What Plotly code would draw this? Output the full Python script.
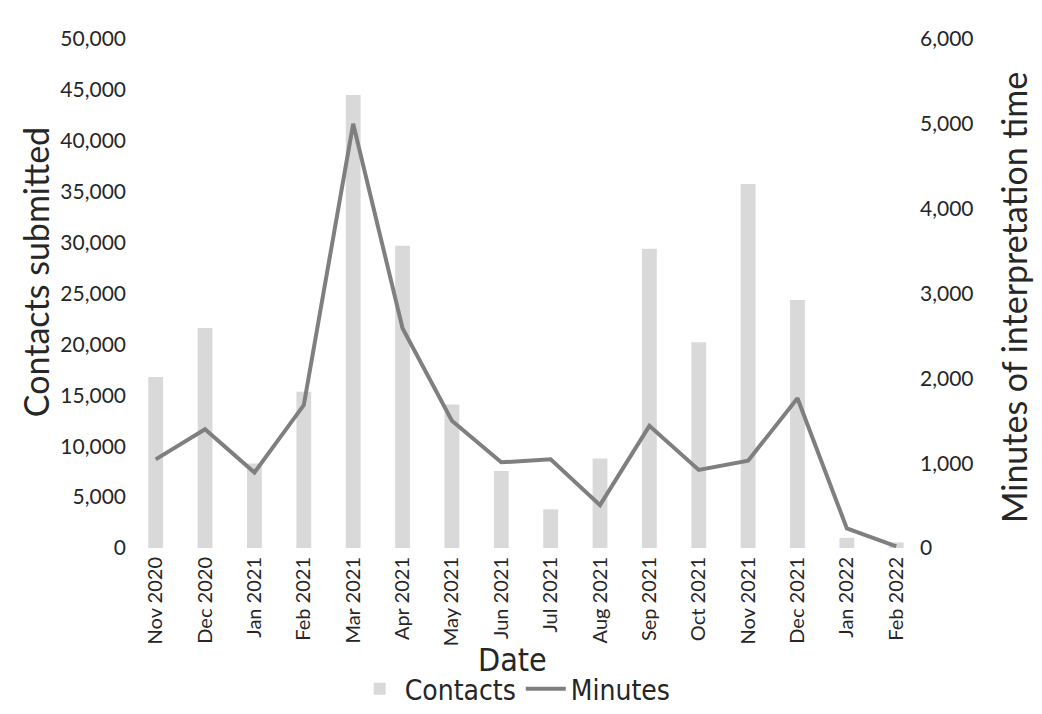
import plotly.graph_objects as go

months = ["Nov 2020", "Dec 2020", "Jan 2021", "Feb 2021", "Mar 2021", "Apr 2021",
          "May 2021", "Jun 2021", "Jul 2021", "Aug 2021", "Sep 2021", "Oct 2021",
          "Nov 2021", "Dec 2021", "Jan 2022", "Feb 2022"]
contacts = [16800, 21600, 8300, 15350, 44500, 29700, 14100, 7560, 3800, 8800,
            29400, 20200, 35750, 24350, 1000, 550]
minutes = [1045, 1400, 890, 1685, 5000, 2590, 1500, 1010, 1045, 505,
           1440, 920, 1030, 1765, 230, 20]

left_ticks = list(range(0, 50001, 5000))
right_ticks = list(range(0, 6001, 1000))

FONT = "Lato"
NARROW = "DejaVu Sans Condensed, Roboto Condensed, Lato"
TXT = "#262626"

fig = go.Figure()
fig.add_trace(go.Bar(x=months, y=contacts, name="Contacts",
                     marker=dict(color="#d9d9d9", line=dict(width=0)), yaxis="y"))
fig.add_trace(go.Scatter(x=months, y=minutes, name="Minutes", mode="lines",
                         line=dict(color="#7f7f7f", width=4), yaxis="y2"))

fig.update_layout(
    width=1042, height=714,
    margin=dict(l=123, r=135, t=31, b=174, autoexpand=False),
    plot_bgcolor="white", paper_bgcolor="white",
    bargap=0.7,
    font=dict(family=FONT, color=TXT),
    xaxis=dict(type="category", range=[-0.5, 15.38], tickangle=-90,
               tickfont=dict(size=20, color=TXT), showgrid=False, zeroline=False,
               showline=False, ticks="", ticklabelstandoff=4),
    yaxis=dict(range=[0, 50000], tickvals=left_ticks, tickformat=",",
               tickfont=dict(size=21, color=TXT), showgrid=False, zeroline=False,
               showline=False, ticks="", ticklabelstandoff=4),
    yaxis2=dict(range=[0, 6000], tickvals=right_ticks, tickformat=",",
                overlaying="y", side="right",
                tickfont=dict(size=21, color=TXT), showgrid=False, zeroline=False,
                showline=False, ticks="", ticklabelstandoff=4),
    showlegend=True,
    legend=dict(orientation="h", x=0.49, xanchor="center", y=-0.228, yanchor="top",
                font=dict(family=NARROW, size=28, color=TXT), itemwidth=40,
                bgcolor="rgba(0,0,0,0)"),
    annotations=[
        dict(text="Contacts submitted", xref="paper", yref="paper", x=-0.1224, y=0.542,
             textangle=-90, showarrow=False, font=dict(size=34, color=TXT, family=FONT),
             xanchor="center", yanchor="middle"),
        dict(text="Minutes of interpretation time", xref="paper", yref="paper", x=1.125, y=0.491,
             textangle=-90, showarrow=False, font=dict(size=34, color=TXT, family=FONT),
             xanchor="center", yanchor="middle"),
        dict(text="Date", xref="paper", yref="paper", x=0.487, y=-0.22,
             showarrow=False, font=dict(size=32, color=TXT, family=NARROW),
             xanchor="center", yanchor="middle"),
    ],
)

fig.write_html("out.html")
